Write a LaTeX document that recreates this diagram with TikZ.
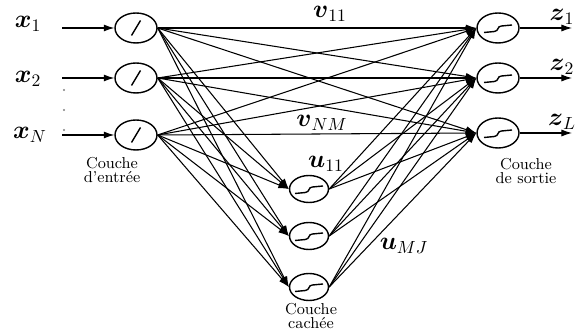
\documentclass[tikz,border=0pt]{standalone}
\usepackage{amsmath, amssymb}
\usepackage{xcolor}
\usepackage{tikz}
\usetikzlibrary{arrows.meta, positioning, calc, shapes.geometric}

\begin{document}
\begin{tikzpicture}[x=0.02cm, y=-0.02cm,
    neuron/.style={draw, ellipse, thick, fill=white,
                   minimum width=0.84cm, minimum height=0.6cm},
    small neuron/.style={neuron, minimum width=0.78cm, minimum height=0.54cm},
    lin/.style={path picture={
        \draw[thick] ([shift={(-0.09cm,-0.15cm)}]path picture bounding box.center)
          -- ([shift={(0.09cm,0.15cm)}]path picture bounding box.center);}},
    sig/.style={path picture={
        \coordinate (pc) at (path picture bounding box.center);
        \draw ([shift={(-0.28cm,-0.09cm)}]pc) -- ([shift={(-0.07cm,-0.07cm)}]pc)
          .. controls ([shift={(0.02cm,-0.06cm)}]pc) and ([shift={(-0.02cm,0.04cm)}]pc)
          .. ([shift={(0.07cm,0.04cm)}]pc) -- ([shift={(0.28cm,0.06cm)}]pc);}},
    conn/.style={-{Latex[length=6pt,width=4pt]}, line width=0.6pt},
    lab/.style={font=\Large},
    title/.style={font=\small, align=center}]
  \useasboundingbox (0,0) rectangle (578,333);

  % input layer
  \node[neuron, lin] (i1) at (136,28) {};
  \node[neuron, lin] (i2) at (136,78) {};
  \node[neuron, lin] (i3) at (136,135) {};
  % hidden layer
  \node[small neuron, sig] (h1) at (309,189) {};
  \node[small neuron, sig] (h2) at (309,236) {};
  \node[small neuron, sig] (h3) at (309,287) {};
  % output layer
  \node[neuron, sig] (o1) at (498,28) {};
  \node[neuron, sig] (o2) at (498,78) {};
  \node[neuron, sig] (o3) at (498,133) {};

  % inputs and outputs
  \node[lab] (x1) at (28,24) {$\boldsymbol{x}_1$};
  \node[lab] (x2) at (28,79) {$\boldsymbol{x}_2$};
  \node[lab] (xN) at (30,135) {$\boldsymbol{x}_N$};
  \foreach \k/\y in {1/28, 2/78, 3/135} {
    \coordinate (in\k) at (62,\y);
    \draw[conn] (in\k) -- (i\k.west);
  }
  \foreach \y in {90,110,130}
    \fill[gray] (64,\y) circle (0.6pt);
  \foreach \k/\y in {1/28, 2/78, 3/133} {
    \coordinate (out\k) at (572,\y);
    \draw[conn] (o\k.east) -- (out\k);
  }
  \node[lab] (z1) at (562,17) {$\boldsymbol{z}_1$};
  \node[lab] (z2) at (562,67) {$\boldsymbol{z}_2$};
  \node[lab] (zL) at (562,122) {$\boldsymbol{z}_L$};

  % connections
  \foreach \i in {1,2,3} {
    \foreach \j in {1,2,3} {
      \draw[conn] (i\i.east) -- (h\j.west);
      \draw[conn] (i\i.east) -- (o\j.west);
      \draw[conn] (h\i.east) -- (o\j.west);
    }
  }

  % weights
  \node[lab] (v11) at (330,14) {$\boldsymbol{v}_{11}$};
  \node[lab] (vNM) at (322,123) {$\boldsymbol{v}_{NM}$};
  \node[lab] (u11) at (326,164) {$\boldsymbol{u}_{11}$};
  \node[lab] (uMJ) at (404,246) {$\boldsymbol{u}_{MJ}$};

  % layer names
  \node[title] (tin) at (112,170) {Couche\\[-3pt]d'entrée};
  \node[title] (tout) at (526,171) {Couche\\[-3pt]de sortie};
  \node[title] (thid) at (311,316) {Couche\\[-3pt]cachée};
\end{tikzpicture}
\end{document}
